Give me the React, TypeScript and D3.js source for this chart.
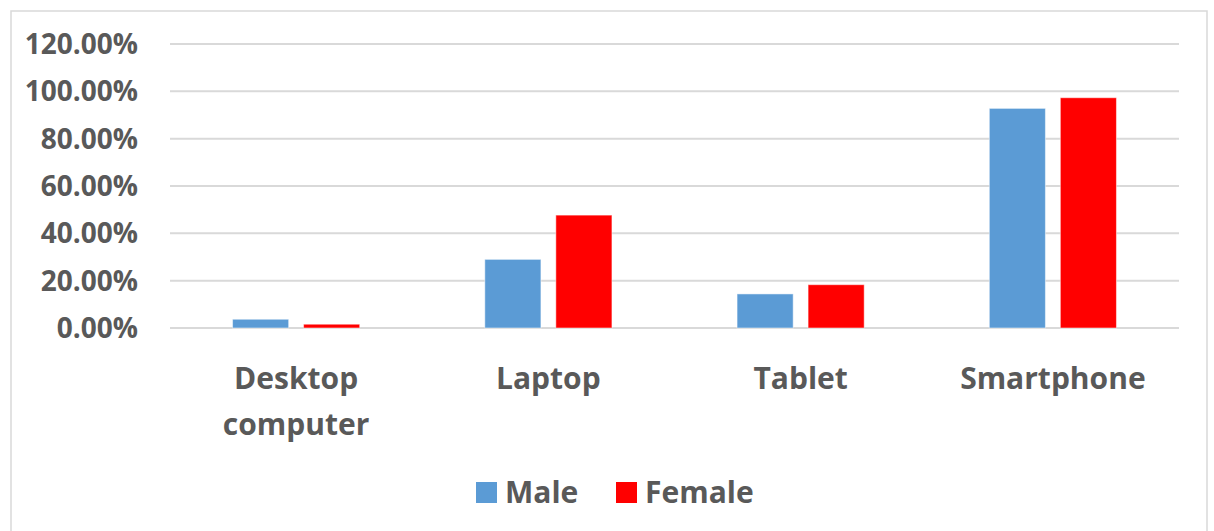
import React from "react";
import * as d3 from "d3";

const categories = ["Desktop computer", "Laptop", "Tablet", "Smartphone"];
const categoryLines = [["Desktop", "computer"], ["Laptop"], ["Tablet"], ["Smartphone"]];
const seriesNames = ["Male", "Female"];
const maleValues = [0.037, 0.29, 0.144, 0.928];
const femaleValues = [0.016, 0.477, 0.183, 0.973];
const yTicks = [0, 0.2, 0.4, 0.6, 0.8, 1.0, 1.2];
const colors = ["#5B9BD5", "#FF0000"];

const W = 1214;
const H = 531;
const FONT = "'Open Sans', sans-serif";
const TEXT = "#595959";

export default function App() {
  const left = 170, right = 1179, top = 44, bottom = 328;
  const x0 = d3.scaleBand<string>().domain(categories).range([left, right]).paddingInner(0).paddingOuter(0);
  const bw = x0.bandwidth();
  const x1 = d3.scaleBand<string>().domain(seriesNames).range([bw * 0.248, bw * 0.752]).paddingInner(0.21);
  const y = d3.scaleLinear().domain([0, 1.2]).range([bottom, top]);
  const series = [maleValues, femaleValues];
  const fmt = d3.format(".2%");

  return (
    <svg width={W} height={H} style={{ position: "absolute", left: 0, top: 0, display: "block", background: "#fff" }}>
      <rect x={11} y={11} width={1196} height={540} fill="#fff" stroke="#D9D9D9" strokeWidth={1.5} />
      {yTicks.map((t) => (
        <g key={t}>
          <line x1={left} x2={right} y1={y(t)} y2={y(t)} stroke="#D9D9D9" strokeWidth={2} />
          <text x={138} y={y(t)} dy="0.36em" textAnchor="end" fontFamily={FONT} fontWeight={700} fontSize={28} fill={TEXT}>
            {fmt(t)}
          </text>
        </g>
      ))}
      {categories.map((c, i) => (
        <g key={c}>
          {series.map((vals, s) => (
            <rect
              key={s}
              x={(x0(c) as number) + (x1(seriesNames[s]) as number)}
              y={y(vals[i])}
              width={x1.bandwidth()}
              height={y(0) - y(vals[i])}
              fill={colors[s]}
              stroke="#fff"
              strokeOpacity={0.5}
              strokeWidth={1}
            />
          ))}
          {categoryLines[i].map((ln, k) => (
            <text
              key={k}
              x={(x0(c) as number) + bw / 2}
              y={389 + k * 46}
              textAnchor="middle"
              fontFamily={FONT}
              fontWeight={700}
              fontSize={30}
              fill={TEXT}
            >
              {ln}
            </text>
          ))}
        </g>
      ))}
      <g>
        <rect x={476} y={482} width={21} height={21} fill={colors[0]} />
        <text x={505} y={503} fontFamily={FONT} fontWeight={700} fontSize={30} fill={TEXT}>{seriesNames[0]}</text>
        <rect x={616} y={482} width={21} height={21} fill={colors[1]} />
        <text x={645} y={503} fontFamily={FONT} fontWeight={700} fontSize={30} fill={TEXT}>{seriesNames[1]}</text>
      </g>
    </svg>
  );
}
